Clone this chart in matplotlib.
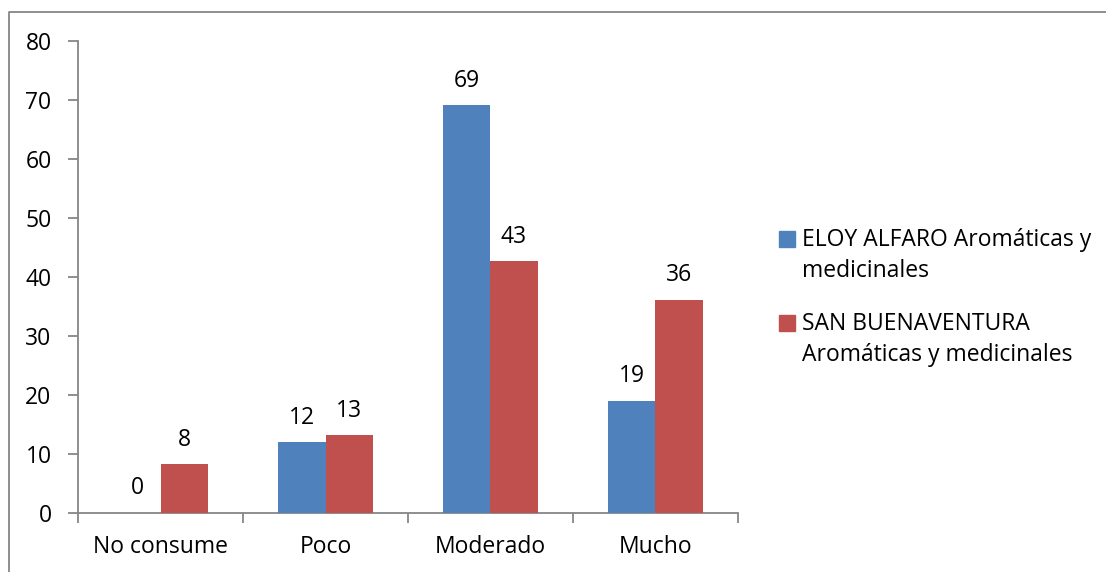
import numpy as np
import matplotlib.pyplot as plt
from matplotlib.patches import Rectangle
from matplotlib.lines import Line2D

# data
categories = ['No consume', 'Poco', 'Moderado', 'Mucho']
eloy = [0, 11.9, 69.1, 19.0]
sanb = [8.2, 13.1, 42.6, 36.1]
series_names = ['ELOY ALFARO Aromáticas y\nmedicinales',
                'SAN BUENAVENTURA\nAromáticas y medicinales']
colors = ['#4F81BD', '#C0504D']

plt.rcParams['font.family'] = ['Open Sans', 'DejaVu Sans']
fs = 16.5
axis_gray = '#868686'

fig = plt.figure(figsize=(11.06, 5.72), dpi=100)
W, H = 1106, 572
ax = fig.add_axes([78/W, 1-512.5/H, (738-78)/W, (512.5-41)/H])

x = np.arange(len(categories))
bw = 0.285
b1 = ax.bar(x - bw/2, eloy, bw, color=colors[0], zorder=3)
b2 = ax.bar(x + bw/2, sanb, bw, color=colors[1], zorder=3)

for bars, vals in [(b1, eloy), (b2, sanb)]:
    for rect, v in zip(bars, vals):
        ax.annotate('%d' % round(v), (rect.get_x() + rect.get_width()/2, v),
                    xytext=(0, 9), textcoords='offset points',
                    ha='center', va='bottom', fontsize=fs)

ax.set_xlim(-0.5, len(categories) - 0.5)
ax.set_ylim(0, 80)
ax.set_yticks(np.arange(0, 81, 10))
ax.set_xticks(x)
ax.set_xticklabels(categories)
ax.set_xticks(np.arange(-0.5, len(categories)), minor=True)
ax.tick_params(axis='x', which='major', length=0, pad=16, labelsize=fs)
ax.tick_params(axis='x', which='minor', length=7, width=1.3, color=axis_gray,
               direction='out')
ax.tick_params(axis='y', length=7, width=1.3, color=axis_gray, pad=12,
               labelsize=fs)
for s in ['top', 'right']:
    ax.spines[s].set_visible(False)
for s in ['left', 'bottom']:
    ax.spines[s].set_color(axis_gray)
    ax.spines[s].set_linewidth(1.3)

# legend drawn by hand so the squares sit beside the first line
leg_y = [239, 323]
for name, c, yy in zip(series_names, colors, leg_y):
    fig.patches.append(Rectangle((779/W, 1-(yy+8)/H), 16/W, 16/H,
                                 color=c, transform=fig.transFigure))
    fig.text(802/W, 1-(yy-11)/H, name, fontsize=fs, va='top', ha='left',
             linespacing=1.4)

# chart frame (top and left edges visible)
fig.lines.append(Line2D([9/W, 9/W, 1], [0, 1-12/H, 1-12/H],
                        color=axis_gray, lw=1.3, transform=fig.transFigure))

fig.savefig('out.png', dpi=100)
